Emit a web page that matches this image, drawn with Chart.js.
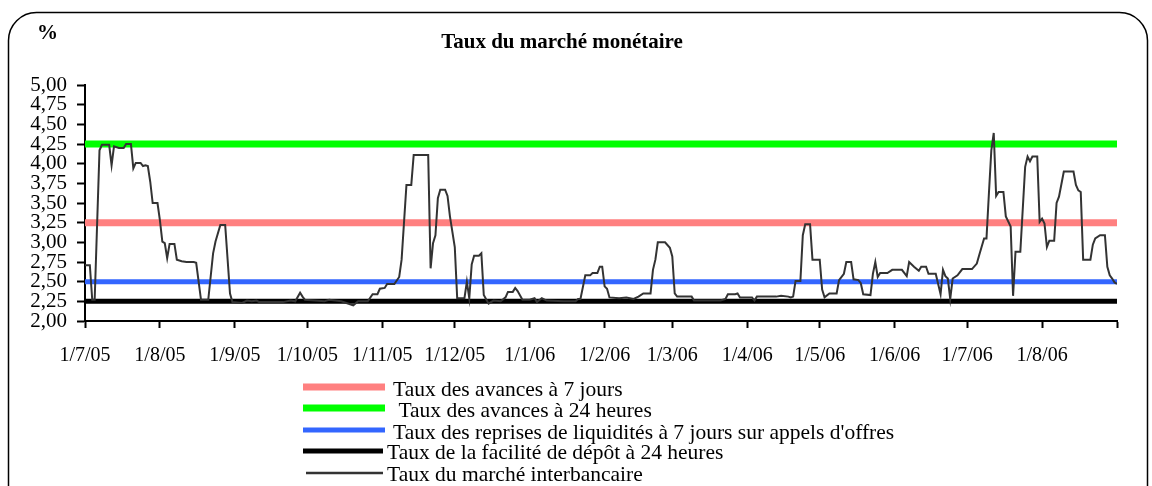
<!DOCTYPE html>
<html lang="fr">
<head>
    <meta charset="UTF-8">
    <title>Taux du marché monétaire</title>
    <style>
        html, body { margin: 0; padding: 0; background: #fff; }
        #chart { display: block; }
    </style>
</head>
<body>
    <canvas id="chart" width="1152" height="486"></canvas>

    <script src="https://cdn.jsdelivr.net/npm/chart.js"></script>
    <script>
        // days counted from 1/7/05
        var monthTicks = [0, 31, 62, 92, 123, 153, 184, 215, 243, 274, 304, 335, 365, 396, 427];
        var monthLabels = ['1/7/05', '1/8/05', '1/9/05', '1/10/05', '1/11/05', '1/12/05', '1/1/06',
                           '1/2/06', '1/3/06', '1/4/06', '1/5/06', '1/6/06', '1/7/06', '1/8/06', ''];

        var yTicks = [2.00, 2.25, 2.50, 2.75, 3.00, 3.25, 3.50, 3.75, 4.00, 4.25, 4.50, 4.75, 5.00];

        // official rates (flat over the period)
        var rateLabels = ['Taux des avances à 7 jours',
                          ' Taux des avances à 24 heures',
                          'Taux des reprises de liquidités à 7 jours sur appels d\'offres',
                          'Taux de la facilité de dépôt à 24 heures'];
        var rateValues = [3.25, 4.25, 2.50, 2.25];
        var rateDays = [0, 427];

        // interbank market rate
        var ibLabel = 'Taux du marché interbancaire';
        var ibDays = [0, 2, 3, 4, 6, 7, 10, 11, 12, 14, 16, 17, 19, 20, 21, 23, 24, 25, 26, 27, 28, 30,
                      31, 32, 33, 34, 35, 37, 38, 40, 42, 45, 46, 48, 51, 53, 54, 56, 58, 60, 61, 65,
                      67, 69, 71, 72, 82, 85, 87, 89, 90, 91, 99, 101, 106, 111, 113, 117, 119, 121,
                      122, 124, 125, 128, 130, 131, 133, 135, 136, 142, 143, 144, 145, 146, 147, 149,
                      150, 151, 153, 154, 157, 158, 159, 160, 161, 163, 164, 165, 167, 169, 172, 174,
                      175, 177, 178, 179, 181, 184, 186, 187, 189, 191, 198, 203, 204, 205, 207, 209,
                      210, 212, 213, 214, 215, 216, 217, 221, 224, 227, 229, 231, 234, 235, 236, 237,
                      240, 242, 243, 244, 245, 251, 252, 263, 265, 266, 269, 270, 271, 276, 277, 278,
                      286, 288, 291, 292, 293, 294, 296, 297, 298, 300, 301, 304, 305, 306, 308, 311,
                      312, 314, 315, 317, 318, 320, 321, 322, 325, 326, 327, 328, 329, 332, 334, 338,
                      340, 341, 343, 345, 346, 348, 349, 352, 354, 355, 356, 357, 358, 359, 361, 363,
                      367, 369, 370, 372, 373, 374, 375, 376, 377, 378, 380, 381, 383, 384, 385, 387,
                      389, 390, 391, 392, 394, 395, 396, 397, 398, 399, 401, 402, 403, 405, 409, 410,
                      411, 412, 413, 416, 417, 418, 420, 422, 423, 424, 425, 426, 427];
        var ibRates = [2.71, 2.71, 2.27, 2.27, 4.17, 4.24, 4.24, 3.98, 4.22, 4.20, 4.20, 4.25, 4.25, 3.94,
                       4.01, 4.01, 3.97, 3.98, 3.97, 3.77, 3.50, 3.50, 3.28, 3.01, 2.99, 2.80, 2.98, 2.98,
                       2.78, 2.76, 2.75, 2.75, 2.74, 2.27, 2.27, 2.86, 3.01, 3.22, 3.22, 2.35, 2.24, 2.23,
                       2.26, 2.25, 2.26, 2.24, 2.24, 2.26, 2.25, 2.36, 2.31, 2.27, 2.25, 2.27, 2.25, 2.20,
                       2.25, 2.25, 2.34, 2.34, 2.41, 2.42, 2.47, 2.47, 2.56, 2.78, 3.73, 3.73, 4.11, 4.11,
                       2.67, 2.99, 3.09, 3.56, 3.67, 3.67, 3.59, 3.33, 2.94, 2.29, 2.29, 2.50, 2.29, 2.72,
                       2.83, 2.83, 2.86, 2.33, 2.22, 2.26, 2.25, 2.30, 2.37, 2.37, 2.42, 2.38, 2.27, 2.27,
                       2.29, 2.24, 2.29, 2.26, 2.25, 2.25, 2.28, 2.28, 2.58, 2.58, 2.61, 2.61, 2.69, 2.69,
                       2.44, 2.41, 2.30, 2.29, 2.30, 2.28, 2.31, 2.35, 2.35, 2.65, 2.78, 3.00, 3.00, 2.93,
                       2.82, 2.35, 2.31, 2.31, 2.26, 2.26, 2.28, 2.34, 2.34, 2.35, 2.30, 2.30, 2.26, 2.31,
                       2.31, 2.32, 2.31, 2.30, 2.31, 2.51, 2.51, 3.09, 3.23, 3.23, 2.78, 2.78, 2.40, 2.30,
                       2.35, 2.35, 2.52, 2.60, 2.75, 2.75, 2.53, 2.52, 2.48, 2.34, 2.33, 2.60, 2.75, 2.56,
                       2.61, 2.61, 2.65, 2.65, 2.57, 2.75, 2.69, 2.64, 2.69, 2.69, 2.60, 2.60, 2.34, 2.65,
                       2.57, 2.54, 2.28, 2.54, 2.58, 2.66, 2.66, 2.73, 2.84, 3.05, 3.05, 3.62, 4.17, 4.39,
                       3.59, 3.64, 3.64, 3.33, 3.20, 2.32, 2.88, 2.88, 3.96, 4.09, 4.03, 4.09, 4.09, 3.26,
                       3.30, 3.24, 2.94, 3.02, 3.02, 3.50, 3.58, 3.90, 3.90, 3.73, 3.66, 3.64, 2.78, 2.78,
                       2.97, 3.05, 3.09, 3.09, 2.69, 2.58, 2.54, 2.49, 2.47];

        var rateColors = ['#ff8080', '#00ff00', '#3366ff', '#000000'];
        var rateWidths = [7, 7, 5, 5];
        var serif = '"Liberation Serif", "Times New Roman", serif';

        function toPoints(days, values) {
            return days.map(function(d, i) { return { x: d, y: values[i] }; });
        }

        var datasets = rateLabels.map(function(label, i) {
            return {
                label: label,
                data: toPoints(rateDays, [rateValues[i], rateValues[i]]),
                borderColor: rateColors[i],
                borderWidth: rateWidths[i],
                pointRadius: 0,
                order: i + 1
            };
        });
        datasets.push({
            label: ibLabel,
            data: toPoints(ibDays, ibRates),
            borderColor: '#333333',
            borderWidth: 2,
            pointRadius: 0,
            order: 0
        });

        // frame, title, "%" and the legend block under the axis
        var decorations = {
            id: 'decorations',
            beforeDraw: function(chart) {
                var ctx = chart.ctx;
                ctx.save();
                ctx.fillStyle = '#fff';
                ctx.fillRect(0, 0, chart.width, chart.height);
                var x0 = 8.5, y0 = 12.5, x1 = 1147.5, y1 = 520, r = 28;
                ctx.beginPath();
                ctx.moveTo(x0 + r, y0);
                ctx.lineTo(x1 - r, y0);
                ctx.arcTo(x1, y0, x1, y0 + r, r);
                ctx.lineTo(x1, y1);
                ctx.lineTo(x0, y1);
                ctx.lineTo(x0, y0 + r);
                ctx.arcTo(x0, y0, x0 + r, y0, r);
                ctx.strokeStyle = '#000';
                ctx.lineWidth = 1.5;
                ctx.stroke();
                ctx.restore();
            },
            afterDraw: function(chart) {
                var ctx = chart.ctx;
                ctx.save();
                ctx.fillStyle = '#000';
                ctx.textBaseline = 'alphabetic';
                ctx.font = 'bold 21px ' + serif;
                ctx.textAlign = 'left';
                ctx.fillText('%', 37, 39);
                ctx.font = 'bold 21px ' + serif;
                ctx.textAlign = 'center';
                ctx.fillText('Taux du marché monétaire', 562, 48);

                var lineY = [387, 408, 430, 451, 473];
                var textY = [390, 411, 433, 453, 475];
                var textX = [393, 393, 393, 387, 387];
                ctx.font = '21.5px ' + serif;
                ctx.textAlign = 'left';
                ctx.textBaseline = 'middle';
                chart.data.datasets.forEach(function(ds, i) {
                    ctx.beginPath();
                    ctx.moveTo(i < 4 ? 303 : 306, lineY[i]);
                    ctx.lineTo(i < 3 ? 385 : 383, lineY[i]);
                    ctx.strokeStyle = ds.borderColor;
                    ctx.lineWidth = i < 4 ? ds.borderWidth : 2.5;
                    ctx.stroke();
                    ctx.fillText(ds.label, textX[i], textY[i]);
                });
                ctx.restore();
            }
        };

        new Chart(document.getElementById('chart'), {
            type: 'line',
            data: { datasets: datasets },
            plugins: [decorations],
            options: {
                responsive: false,
                animation: false,
                events: [],
                layout: { padding: { left: 0, top: 85, right: 35, bottom: 0 } },
                plugins: {
                    legend: { display: false },
                    title: { display: false },
                    tooltip: { enabled: false }
                },
                elements: { line: { tension: 0, borderCapStyle: 'butt' } },
                scales: {
                    x: {
                        type: 'linear',
                        min: 0,
                        max: 427,
                        afterBuildTicks: function(scale) {
                            scale.ticks = monthTicks.map(function(v) { return { value: v }; });
                        },
                        afterFit: function(scale) { scale.height = 165; },
                        border: { display: true, color: '#000', width: 2 },
                        grid: { drawOnChartArea: false, drawTicks: true, tickLength: 7, tickColor: '#000', tickWidth: 2 },
                        ticks: {
                            autoSkip: false,
                            maxRotation: 0,
                            padding: 16,
                            color: '#000',
                            font: { family: serif, size: 20 },
                            callback: function(value, index) { return monthLabels[index]; }
                        }
                    },
                    y: {
                        min: 2,
                        max: 5,
                        afterBuildTicks: function(scale) {
                            scale.ticks = yTicks.map(function(v) { return { value: v }; });
                        },
                        afterFit: function(scale) { scale.width = 85; },
                        border: { display: true, color: '#000', width: 2 },
                        grid: { drawOnChartArea: false, drawTicks: true, tickLength: 8, tickColor: '#000', tickWidth: 2 },
                        ticks: {
                            autoSkip: false,
                            padding: 10,
                            color: '#000',
                            font: { family: serif, size: 21 },
                            callback: function(value) { return value.toFixed(2).replace('.', ','); }
                        }
                    }
                }
            }
        });
    </script>
</body>
</html>
